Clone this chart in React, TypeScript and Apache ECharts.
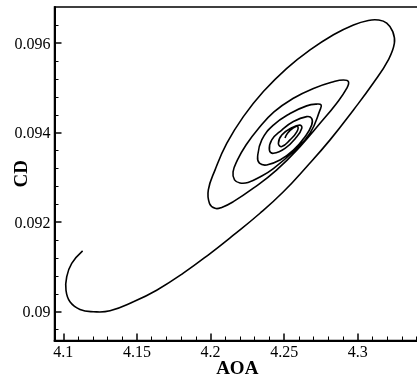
import React, { useEffect, useRef } from "react";
import * as echarts from "echarts";

const aoa = [
  4.1131, 4.1057, 4.1023, 4.1018, 4.1045, 4.1113, 4.1204, 4.1317, 4.1476, 4.1634,
  4.1815, 4.1997, 4.2155, 4.2336, 4.2495, 4.2653, 4.2812, 4.2971, 4.3106, 4.3208,
  4.3249, 4.3238, 4.3197, 4.314, 4.3072, 4.2971, 4.2835, 4.2676, 4.2518, 4.2359,
  4.2223, 4.211, 4.2031, 4.1985, 4.1993, 4.2031, 4.2076,
  4.2155, 4.2291, 4.245, 4.2608, 4.2744, 4.2857, 4.2925, 4.2937, 4.2903, 4.2835,
  4.2699, 4.2563, 4.2431, 4.2323, 4.2241, 4.2183, 4.2153, 4.2163, 4.22, 4.2255, 4.2336,
  4.2427, 4.2563, 4.2676, 4.2744, 4.2751, 4.2722, 4.2653, 4.254, 4.2427,
  4.2348, 4.232, 4.2332, 4.2382,
  4.2472, 4.2563, 4.2642, 4.2687, 4.2687, 4.2653, 4.2563, 4.2484, 4.2416, 4.24, 4.2427,
  4.2506, 4.2586, 4.262, 4.2608, 4.2551, 4.2484, 4.2461, 4.2484,
  4.254, 4.2586, 4.2592, 4.2563, 4.2523, 4.2506
];
const cd = [
  0.09136, 0.09108, 0.09078, 0.09048, 0.09022, 0.09005, 0.09, 0.09002, 0.09022, 0.09048,
  0.09086, 0.0913, 0.09171, 0.0922, 0.09268, 0.09324, 0.09384, 0.09451, 0.09511, 0.09563,
  0.096, 0.09626, 0.09645, 0.09652, 0.09651, 0.09641, 0.09619, 0.09585, 0.09544, 0.09492,
  0.09436, 0.09376, 0.09317, 0.09272, 0.09242, 0.09231, 0.09233,
  0.09246, 0.09276, 0.09317, 0.09369, 0.09421, 0.09466, 0.09499, 0.09514, 0.09518, 0.09514,
  0.09499, 0.09477, 0.094465, 0.094085, 0.093727, 0.093392, 0.093124, 0.092945, 0.092878, 0.092889, 0.093012,
  0.0932, 0.09358, 0.09399, 0.09451, 0.09462, 0.09464, 0.0946, 0.09443, 0.09417,
  0.09384, 0.09347, 0.09332, 0.09328,
  0.09339, 0.09361, 0.09391, 0.09417, 0.09432, 0.09436, 0.09425, 0.09406, 0.09384, 0.09361, 0.09354,
  0.09365, 0.09391, 0.0941, 0.09417, 0.09411, 0.09395, 0.09376, 0.09369,
  0.09384, 0.09402, 0.09414, 0.09411, 0.09399, 0.09388
];

const xMajor = [4.1, 4.15, 4.2, 4.25, 4.3];
const xMinor = [
  4.11, 4.12, 4.13, 4.14, 4.16, 4.17, 4.18, 4.19, 4.21, 4.22, 4.23, 4.24,
  4.26, 4.27, 4.28, 4.29, 4.31, 4.32, 4.33, 4.34
];
const yMajor = [0.09, 0.092, 0.094, 0.096];
const yMinor = [
  0.0896, 0.0904, 0.0908, 0.0912, 0.0916, 0.0924, 0.0928, 0.0932, 0.0936,
  0.0944, 0.0948, 0.0952, 0.0956, 0.0964
];

const X_MIN = 4.094;
const X_MAX = 4.3423;
const Y_MIN = 0.089356;
const Y_MAX = 0.09681;

const FONT = "'Liberation Serif', 'DejaVu Serif', serif";

export default function App() {
  const ref = useRef<HTMLDivElement>(null);
  useEffect(() => {
    if (!ref.current) return;
    const chart = echarts.init(ref.current, null, { renderer: "svg" });
    const pts = aoa.map((a, i) => [a, cd[i]]);
    chart.setOption({
      animation: false,
      grid: {
        left: 54.5, top: 7, right: -3, bottom: 35.5,
        containLabel: false, outerBoundsMode: "none",
        show: true, borderColor: "#000", borderWidth: 1.5, backgroundColor: "transparent",
      },
      xAxis: [
        {
          type: "value",
          min: X_MIN,
          max: X_MAX,
          position: "bottom",
          name: "AOA",
          nameLocation: "middle",
          nameGap: 17,
          nameMoveOverlap: false,
          nameTextStyle: { fontFamily: FONT, fontWeight: "bold", fontSize: 19, color: "#000", verticalAlign: "top" },
          axisLine: { show: true, onZero: false, lineStyle: { color: "#000", width: 2 } },
          axisTick: { show: true, inside: true, length: 7, customValues: xMajor, lineStyle: { color: "#000", width: 1.5 } },
          axisLabel: { show: true, customValues: xMajor, margin: 3, fontFamily: FONT, fontSize: 16, color: "#000" },
          splitLine: { show: false },
        },
        {
          type: "value",
          min: X_MIN,
          max: X_MAX,
          position: "bottom",
          axisLine: { show: false, onZero: false },
          axisTick: { show: true, inside: true, length: 4, customValues: xMinor, lineStyle: { color: "#000", width: 1 } },
          axisLabel: { show: false },
          splitLine: { show: false },
        },
      ],
      yAxis: [
        {
          type: "value",
          min: Y_MIN,
          max: Y_MAX,
          position: "left",
          name: "CD",
          nameLocation: "middle",
          nameGap: 25,
          nameRotate: 90,
          nameMoveOverlap: false,
          nameTextStyle: { fontFamily: FONT, fontWeight: "bold", fontSize: 19, color: "#000" },
          axisLine: { show: true, onZero: false, lineStyle: { color: "#000", width: 2 } },
          axisTick: { show: true, inside: true, length: 7, customValues: yMajor, lineStyle: { color: "#000", width: 1.5 } },
          axisLabel: { show: true, customValues: yMajor, margin: 4, fontFamily: FONT, fontSize: 16, color: "#000" },
          splitLine: { show: false },
        },
        {
          type: "value",
          min: Y_MIN,
          max: Y_MAX,
          position: "left",
          axisLine: { show: false, onZero: false },
          axisTick: { show: true, inside: true, length: 4, customValues: yMinor, lineStyle: { color: "#000", width: 1 } },
          axisLabel: { show: false },
          splitLine: { show: false },
        },
      ],
      series: [
        {
          type: "custom",
          coordinateSystem: "cartesian2d",
          xAxisIndex: 0,
          yAxisIndex: 0,
          data: pts,
          encode: { x: 0, y: 1 },
          clip: true,
          renderItem: (params: any, api: any) => {
            if (params.dataIndex !== 0) return null;
            const points = pts.map((p) => api.coord(p));
            return {
              type: "polyline",
              shape: { points, smooth: 0.45 },
              style: { stroke: "#000", lineWidth: 1.6, fill: null },
            };
          },
        },
      ],
    });
    return () => chart.dispose();
  }, []);
  return <div ref={ref} style={{ position: "fixed", left: 0, top: 0, width: 417, height: 376 }} />;
}
